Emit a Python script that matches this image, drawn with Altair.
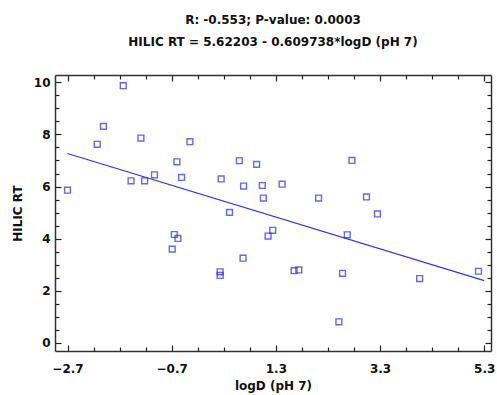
import altair as alt
import pandas as pd
import numpy as np

# data
logD = [-2.70, -2.13, -2.01, -1.63, -1.48, -1.29, -1.22, -1.03, -0.60, -0.51,
        -0.35, 0.25, 0.41, 0.60, 0.68, 0.93, 1.04, 1.06, 1.42, 2.12,
        2.76, 3.04, 3.25, -0.65, -0.58, -0.69, 0.67, 0.23, 0.23, 1.15,
        1.24, 2.67, 1.65, 1.74, 2.58, 4.06, 5.19, 2.51]
hilic_rt = [5.86, 7.62, 8.31, 9.87, 6.22, 7.86, 6.22, 6.45, 6.95, 6.35,
            7.72, 6.29, 5.01, 6.99, 6.02, 6.85, 6.04, 5.56, 6.09, 5.56,
            7.00, 5.60, 4.95, 4.16, 4.01, 3.60, 3.25, 2.73, 2.59, 4.10,
            4.32, 4.15, 2.77, 2.80, 2.67, 2.47, 2.75, 0.81]
intercept = 5.62203
slope = -0.609738
line_x = [-2.7, 5.3]

x_major = [-2.7, -0.7, 1.3, 3.3, 5.3]
x_minor = [-2.2, -1.7, -1.2, -0.2, 0.3, 0.8, 1.8, 2.3, 2.8, 3.8, 4.3, 4.8]
y_major = [0, 2, 4, 6, 8, 10]
y_minor = [0.5 * i for i in range(21) if i % 4 != 0]

title_lines = ["R: -0.553; P-value: 0.0003",
               "HILIC RT = 5.62203 - 0.609738*logD (pH 7)"]

pts = pd.DataFrame({"x": logD, "y": hilic_rt})
ln = pd.DataFrame({"x": line_x})

FONT = "DejaVu Sans"
xs = alt.Scale(domain=[-2.94, 5.43], nice=False, zero=False)
ys = alt.Scale(domain=[-0.31, 10.28], nice=False, zero=False)


def xaxis(orient, values, size, labels=False, title=None, domain=False):
    kw = dict(orient=orient, values=values, tickSize=alt.ExprRef(f"-{size}"),
              tickColor="#222222", tickWidth=1.2, labels=labels, grid=False,
              domain=domain, domainColor="#333333", domainWidth=1.5)
    if labels:
        kw.update(labelFont=FONT, labelFontSize=12, labelFontWeight="bold",
                  labelColor="#111111", labelPadding=12 + size,
                  format=".1f")
    if title:
        kw.update(title=title, titleFont=FONT, titleFontSize=12,
                  titleFontWeight="bold", titleColor="#111111", titlePadding=6)
    else:
        kw.update(title=None)
    return alt.Axis(**kw)


def yaxis(orient, values, size, labels=False, title=None, domain=False):
    kw = dict(orient=orient, values=values, tickSize=alt.ExprRef(f"-{size}"),
              tickColor="#222222", tickWidth=1.2, labels=labels, grid=False,
              domain=domain, domainColor="#333333", domainWidth=1.5)
    if labels:
        kw.update(labelFont=FONT, labelFontSize=12, labelFontWeight="bold",
                  labelColor="#111111", labelPadding=5 + size, format="d")
    if title:
        kw.update(title=title, titleFont=FONT, titleFontSize=12,
                  titleFontWeight="bold", titleColor="#111111", titlePadding=9)
    else:
        kw.update(title=None)
    return alt.Axis(**kw)


points = alt.Chart(pts).mark_point(
    shape="square", filled=False, size=34, color="#2424ff", strokeWidth=1.4
).encode(
    x=alt.X("x:Q", scale=xs, axis=xaxis("bottom", x_major, 6, labels=True,
                                        title="logD (pH 7)", domain=True)),
    y=alt.Y("y:Q", scale=ys, axis=yaxis("left", y_major, 6, labels=True,
                                        title="HILIC RT", domain=True)),
)

fit = alt.Chart(ln).transform_calculate(
    y=f"{intercept} + ({slope}) * datum.x"
).mark_line(color="#3030ff", strokeWidth=1.2).encode(
    x=alt.X("x:Q", scale=xs, axis=xaxis("bottom", x_minor, 4)),
    y=alt.Y("y:Q", scale=ys, axis=yaxis("left", y_minor, 4)),
)

top_major = alt.Chart(pts).mark_point(opacity=0).encode(
    x=alt.X("x:Q", scale=xs, axis=xaxis("top", x_major, 6, domain=True)),
    y=alt.Y("y:Q", scale=ys, axis=yaxis("right", y_major, 6, domain=True)),
)

top_minor = alt.Chart(pts).mark_point(opacity=0).encode(
    x=alt.X("x:Q", scale=xs, axis=xaxis("top", x_minor, 4)),
    y=alt.Y("y:Q", scale=ys, axis=yaxis("right", y_minor, 4)),
)

chart = alt.layer(points, fit, top_major, top_minor).resolve_axis(
    x="independent", y="independent"
).properties(
    width=436, height=276,
    title=alt.TitleParams(title_lines, font=FONT, fontSize=12, fontWeight="bold",
                          color="#111111", anchor="middle", offset=25,
                          lineHeight=22),
    autosize=alt.AutoSizeParams(type="none"),
    padding={"left": 55, "top": 75, "right": 6, "bottom": 44},
).configure_view(stroke=None)

chart.save("out.html", embed_options={"renderer": "svg", "actions": False})
